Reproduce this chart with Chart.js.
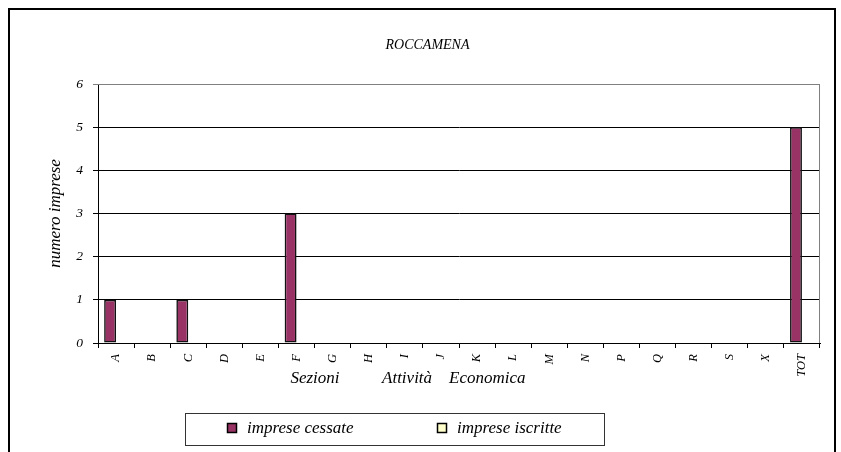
<!DOCTYPE html>
<html>
<head>
<meta charset="utf-8">
<title>ROCCAMENA</title>
<script src="https://cdn.jsdelivr.net/npm/chart.js@4.4.0/dist/chart.umd.min.js"></script>
<style>
    html, body { margin: 0; padding: 0; background: #fff; }
</style>
</head>
<body>
<canvas id="barChart" width="841" height="452"></canvas>
<script>
const TITLE = "ROCCAMENA";
const CATEGORIES = ["A", "B", "C", "D", "E", "F", "G", "H", "I", "J", "K", "L", "M", "N", "P", "Q", "R", "S", "X", "TOT"];
const CESSATE = [1, 0, 1, 0, 0, 3, 0, 0, 0, 0, 0, 0, 0, 0, 0, 0, 0, 0, 0, 5];
const ISCRITTE = [0, 0, 0, 0, 0, 0, 0, 0, 0, 0, 0, 0, 0, 0, 0, 0, 0, 0, 0, 0];
const Y_MIN = 0;
const Y_MAX = 6;
const X_TITLE = "Sezioni          Attività    Economica" + " ".repeat(24);
const Y_TITLE = "numero imprese";

const FONT = "'Liberation Serif', 'Times New Roman', serif";

// outer frame, plot area border and the boxed legend
const framePlugin = {
    id: "frame",
    afterDraw(chart) {
        const c = chart.ctx;
        const a = chart.chartArea;
        c.save();
        c.strokeStyle = "#808080";
        c.lineWidth = 1;
        c.beginPath();
        c.moveTo(a.left, a.top + 0.5);
        c.lineTo(a.right - 0.5, a.top + 0.5);
        c.lineTo(a.right - 0.5, a.bottom);
        c.stroke();

        c.strokeStyle = "#000";
        c.lineWidth = 2;
        c.strokeRect(9, 9, 826, 460);

        // legend
        c.lineWidth = 1;
        c.strokeStyle = "#333";
        c.strokeRect(185.5, 413.5, 419, 32);
        const xs = [227, 437];
        c.font = "italic 17px " + FONT;
        c.textBaseline = "middle";
        c.textAlign = "left";
        chart.data.datasets.forEach((ds, i) => {
            c.fillStyle = ds.backgroundColor;
            c.fillRect(xs[i], 423, 10, 10);
            c.strokeStyle = "#000";
            c.lineWidth = 1.5;
            c.strokeRect(xs[i] + 0.5, 423.5, 9, 9);
            c.fillStyle = "#000";
            c.fillText(ds.label, xs[i] + 20, 429);
        });
        c.restore();
    }
};

const ctx = document.getElementById("barChart").getContext("2d");

const barChart = new Chart(ctx, {
    type: "bar",
    data: {
        labels: CATEGORIES,
        datasets: [{
            label: "imprese cessate",
            data: CESSATE,
            backgroundColor: "#993366",
            borderColor: "#111",
            borderWidth: (c) => (c.raw ? 1.6 : 0),
            borderSkipped: false
        }, {
            label: "imprese iscritte",
            data: ISCRITTE,
            backgroundColor: "#FFFFCC",
            borderColor: "#111",
            borderWidth: (c) => (c.raw ? 1.6 : 0),
            borderSkipped: false
        }]
    },
    options: {
        responsive: false,
        animation: false,
        categoryPercentage: 0.66,
        barPercentage: 1,
        layout: { padding: { left: 0, right: 21, top: 0, bottom: 0 } },
        plugins: {
            legend: { display: false },
            tooltip: { enabled: false },
            title: {
                display: true,
                text: " ".repeat(10) + TITLE,
                color: "#000",
                font: { family: FONT, size: 14, style: "italic", weight: "normal" },
                padding: { top: 37, bottom: 30.2 }
            }
        },
        scales: {
            x: {
                afterFit: (s) => { s.height = 109; },
                grid: { offset: true, drawOnChartArea: false, tickLength: 5, color: "#000" },
                border: { color: "#000", width: 1 },
                ticks: {
                    autoSkip: false,
                    minRotation: 90,
                    maxRotation: 90,
                    padding: 6,
                    color: "#000",
                    font: { family: FONT, size: 12.5, style: "italic" }
                },
                title: {
                    display: true,
                    text: X_TITLE,
                    color: "#000",
                    font: { family: FONT, size: 17, style: "italic" },
                    padding: { top: 0, bottom: 63 }
                }
            },
            y: {
                min: Y_MIN,
                max: Y_MAX,
                afterFit: (s) => { s.width = 98; },
                grid: {
                    tickLength: 5,
                    color: (c) => (c.tick && c.tick.value === Y_MAX ? "#808080" : "#000")
                },
                border: { color: "#000", width: 1 },
                ticks: {
                    stepSize: 1,
                    padding: 10,
                    color: "#000",
                    font: { family: FONT, size: 13.5, style: "italic" }
                },
                title: {
                    display: true,
                    text: Y_TITLE,
                    color: "#000",
                    font: { family: FONT, size: 17, style: "italic" },
                    padding: { top: 45, bottom: 0 }
                }
            }
        }
    },
    plugins: [framePlugin]
});
</script>
</body>
</html>
